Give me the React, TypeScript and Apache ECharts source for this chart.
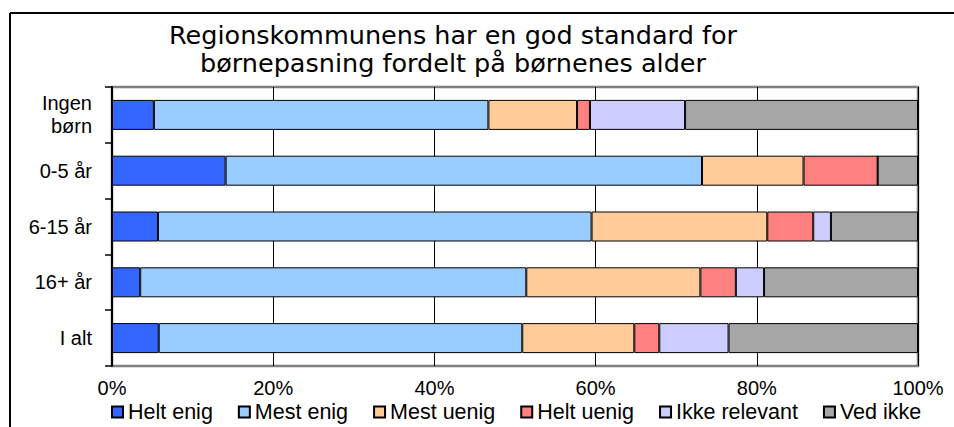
import React, { useEffect, useRef } from "react";
import * as echarts from "echarts";

const categories = ["Ingen\nbørn", "0-5 år", "6-15 år", "16+ år", "I alt"];
const seriesNames = ["Helt enig", "Mest enig", "Mest uenig", "Helt uenig", "Ikke relevant", "Ved ikke"];
const heltEnig = [5.2, 14.1, 5.7, 3.5, 5.8];
const mestEnig = [41.5, 59.1, 53.8, 47.9, 45.1];
const mestUenig = [11.0, 12.6, 21.8, 21.6, 13.9];
const heltUenig = [1.6, 9.2, 5.7, 4.4, 3.1];
const ikkeRelevant = [11.8, 0, 2.2, 3.5, 8.6];
const vedIkke = [28.9, 5.0, 10.8, 19.1, 23.5];
const seriesColors = ["#3366FF", "#99CCFF", "#FFCC99", "#FF8080", "#CCCCFF", "#A6A6A6"];
const titleLines = ["Regionskommunens har en god standard for", "børnepasning fordelt på børnenes alder"];

export default function App() {
  const ref = useRef<HTMLDivElement>(null);
  useEffect(() => {
    if (!ref.current) return;
    const chart = echarts.init(ref.current, undefined, { renderer: "svg" });
    const values = [heltEnig, mestEnig, mestUenig, heltUenig, ikkeRelevant, vedIkke];
    const font = "Liberation Sans, Arial, sans-serif";
    chart.setOption({
      animation: false,
      backgroundColor: "#ffffff",
      graphic: [
        { type: "line", shape: { x1: 10, y1: 13, x2: 954, y2: 13 }, style: { stroke: "#000", lineWidth: 2 } },
        { type: "line", shape: { x1: 10, y1: 13, x2: 10, y2: 427 }, style: { stroke: "#000", lineWidth: 2 } },
        {
          type: "text",
          x: 453,
          y: 21,
          style: {
            text: titleLines.join("\n"),
            textAlign: "center",
            textVerticalAlign: "top",
            fontFamily: "DejaVu Sans",
            fontSize: 25.5,
            lineHeight: 28,
            fill: "#000",
          },
        },
      ],
      grid: {
        left: 112,
        right: 36,
        top: 87,
        bottom: 61,
        show: true,
        borderColor: "#808080",
        borderWidth: 2.5,
        backgroundColor: "transparent",
      },
      legend: {
        data: seriesNames,
        left: 106,
        top: 396,
        itemWidth: 11,
        itemHeight: 11,
        itemGap: 25,
        icon: "rect",
        textStyle: { fontFamily: font, fontSize: 21.5, color: "#000" },
      },
      xAxis: {
        type: "value",
        min: 0,
        max: 100,
        interval: 20,
        axisLine: { show: false },
        axisTick: { show: false },
        splitLine: { show: true, lineStyle: { color: "#000", width: 1 } },
        axisLabel: { formatter: "{value}%", fontFamily: font, fontSize: 20, color: "#000", margin: 12 },
      },
      yAxis: {
        type: "category",
        inverse: true,
        data: categories,
        axisLine: { show: true, lineStyle: { color: "#000", width: 2 } },
        axisTick: { show: true, length: 7, lineStyle: { color: "#000", width: 1.5 } },
        axisLabel: { fontFamily: font, fontSize: 20, color: "#000", margin: 20, lineHeight: 23, align: "right" },
      },
      series: seriesNames.map((name, i) => ({
        name,
        type: "bar",
        stack: "total",
        barWidth: 30,
        data: values[i],
        itemStyle: { color: seriesColors[i], borderColor: "#000", borderWidth: 1 },
      })),
    });
    return () => chart.dispose();
  }, []);
  return <div ref={ref} style={{ position: "fixed", left: 0, top: 0, width: 954, height: 427 }} />;
}
